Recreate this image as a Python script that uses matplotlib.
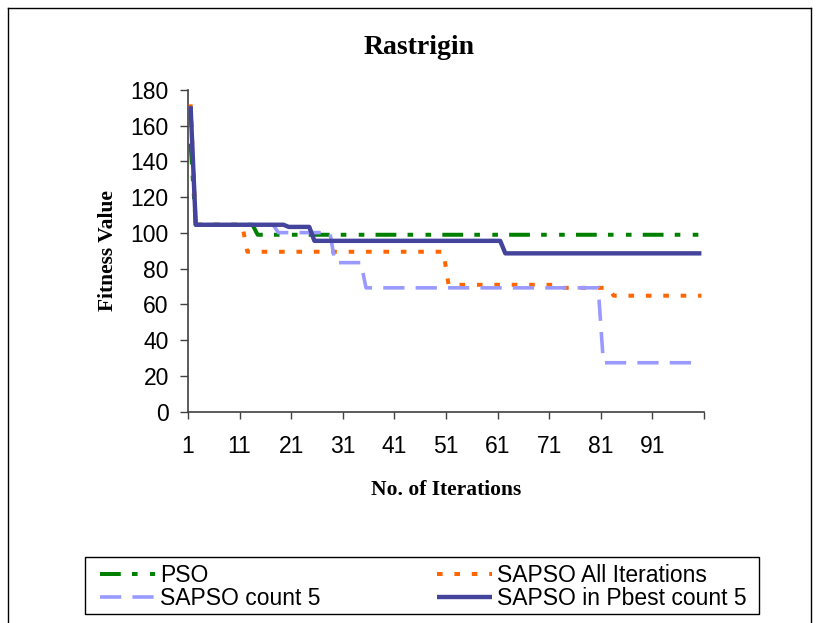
import numpy as np
import matplotlib
matplotlib.use('Agg')
import matplotlib.pyplot as plt
from matplotlib.lines import Line2D
from matplotlib.patches import Rectangle
from matplotlib.font_manager import FontProperties

# ---------------- data ----------------
iterations = np.arange(1, 101)

# step levels and how many iterations each level lasts
pso_levels = [150, 104.6, 99.0]
pso_runs = [1, 12, 87]

all_iter_levels = [172, 104.6, 89.5, 71.0, 69.3, 64.9]
all_iter_runs = [1, 10, 39, 22, 10, 18]

count5_levels = [171, 104.6, 100.2, 83.4, 69.3, 27.4]
count5_runs = [1, 16, 11, 6, 46, 20]

pbest_levels = [171, 104.6, 103.4, 95.6, 88.6]
pbest_runs = [1, 18, 5, 37, 39]

series_names = ["PSO", "SAPSO All Iterations", "SAPSO count 5", "SAPSO in Pbest count 5"]
xtick_labels = ["1", "11", "21", "31", "41", "51", "61", "71", "81", "91", ""]
yticks = [0, 20, 40, 60, 80, 100, 120, 140, 160, 180]

pso = np.repeat(pso_levels, pso_runs)
all_iter = np.repeat(all_iter_levels, all_iter_runs)
count5 = np.repeat(count5_levels, count5_runs)
pbest = np.repeat(pbest_levels, pbest_runs)

# ---------------- figure ----------------
W, H = 819, 623
fig = plt.figure(figsize=(W / 100, H / 100), dpi=100)
fig.patch.set_facecolor('white')

ax_left, ax_right, ax_top, ax_bottom = 188, 704, 90, 411.7
ax = fig.add_axes([ax_left / W, 1 - ax_bottom / H,
                   (ax_right - ax_left) / W, (ax_bottom - ax_top) / H])

px = 0.72  # points per pixel at 100 dpi

l_pso, = ax.plot(iterations, pso, color='#008000', lw=4 * px,
                 dashes=(5.2, 2.8, 1.4, 3.1, 1.4, 2.8),
                 dash_capstyle='butt', solid_capstyle='butt', zorder=2)
l_all, = ax.plot(iterations, all_iter, color='#FF6600', lw=4 * px,
                 dashes=(1.4, 2.95), dash_capstyle='butt', zorder=3)
l_c5, = ax.plot(iterations, count5, color='#9999FF', lw=3.6 * px,
                dashes=(5.9, 3.1), dash_capstyle='butt', zorder=4)
l_pb, = ax.plot(iterations, pbest, color='#44449C', lw=4.4 * px,
                solid_capstyle='butt', zorder=5)

ax.set_xlim(0.5, 100.5)
ax.set_ylim(0, 180)
ax.set_xticks(np.arange(0.5, 101, 10))
ax.set_xticklabels(xtick_labels)
ax.set_yticks(yticks)
ax.set_yticklabels([str(v) for v in yticks])

for s in ['top', 'right']:
    ax.spines[s].set_visible(False)
for s in ['left', 'bottom']:
    ax.spines[s].set_color('#404040')
    ax.spines[s].set_linewidth(1.2)

tick_font = 'Liberation Sans'
ax.tick_params(axis='y', direction='out', length=5.8, width=1, color='#404040',
               labelsize=16.5, pad=8)
ax.tick_params(axis='x', direction='out', length=5, width=1, color='#404040',
               labelsize=16.5, pad=12)
for lab in ax.get_xticklabels() + ax.get_yticklabels():
    lab.set_fontfamily(tick_font)

# titles / labels
fig.text(419.5 / W, 1 - 48 / H, "Rastrigin", ha='center', va='center',
         fontsize=20, fontweight='bold', family='Liberation Serif')
fig.text(108 / W, 1 - 251 / H, "Fitness Value", ha='center', va='center',
         rotation=90, fontsize=15.5, fontweight='bold', family='Liberation Serif')
fig.text(446 / W, 1 - 490 / H, "No. of Iterations", ha='center', va='center',
         fontsize=15.5, fontweight='bold', family='Liberation Serif')

# legend
leg = fig.legend(handles=[l_pso, l_c5, l_all, l_pb],
                 labels=[series_names[0], series_names[2], series_names[1], series_names[3]],
                 ncol=2, loc='center left', bbox_to_anchor=(100 / W, 1 - 587 / H),
                 frameon=False, borderpad=0, borderaxespad=0,
                 handlelength=2.4, handletextpad=0.22, columnspacing=5.1,
                 labelspacing=0.0,
                 prop=FontProperties(family='Liberation Sans', size=16.5))

fig.patches.append(Rectangle((85 / W, 1 - 614 / H), (759 - 85) / W, (614 - 557) / H,
                             transform=fig.transFigure, fill=False,
                             edgecolor='black', lw=1.0))

# outer chart border (top, left, right)
bx0, bx1, by0 = 8 / W, 811 / W, 1 - 8 / H
for xs, ys in [((bx0, bx1), (by0, by0)), ((bx0, bx0), (by0, -0.01)), ((bx1, bx1), (by0, -0.01))]:
    fig.lines.append(Line2D(xs, ys, transform=fig.transFigure, color='black', lw=1.0))

fig.savefig('out.png', dpi=100)
